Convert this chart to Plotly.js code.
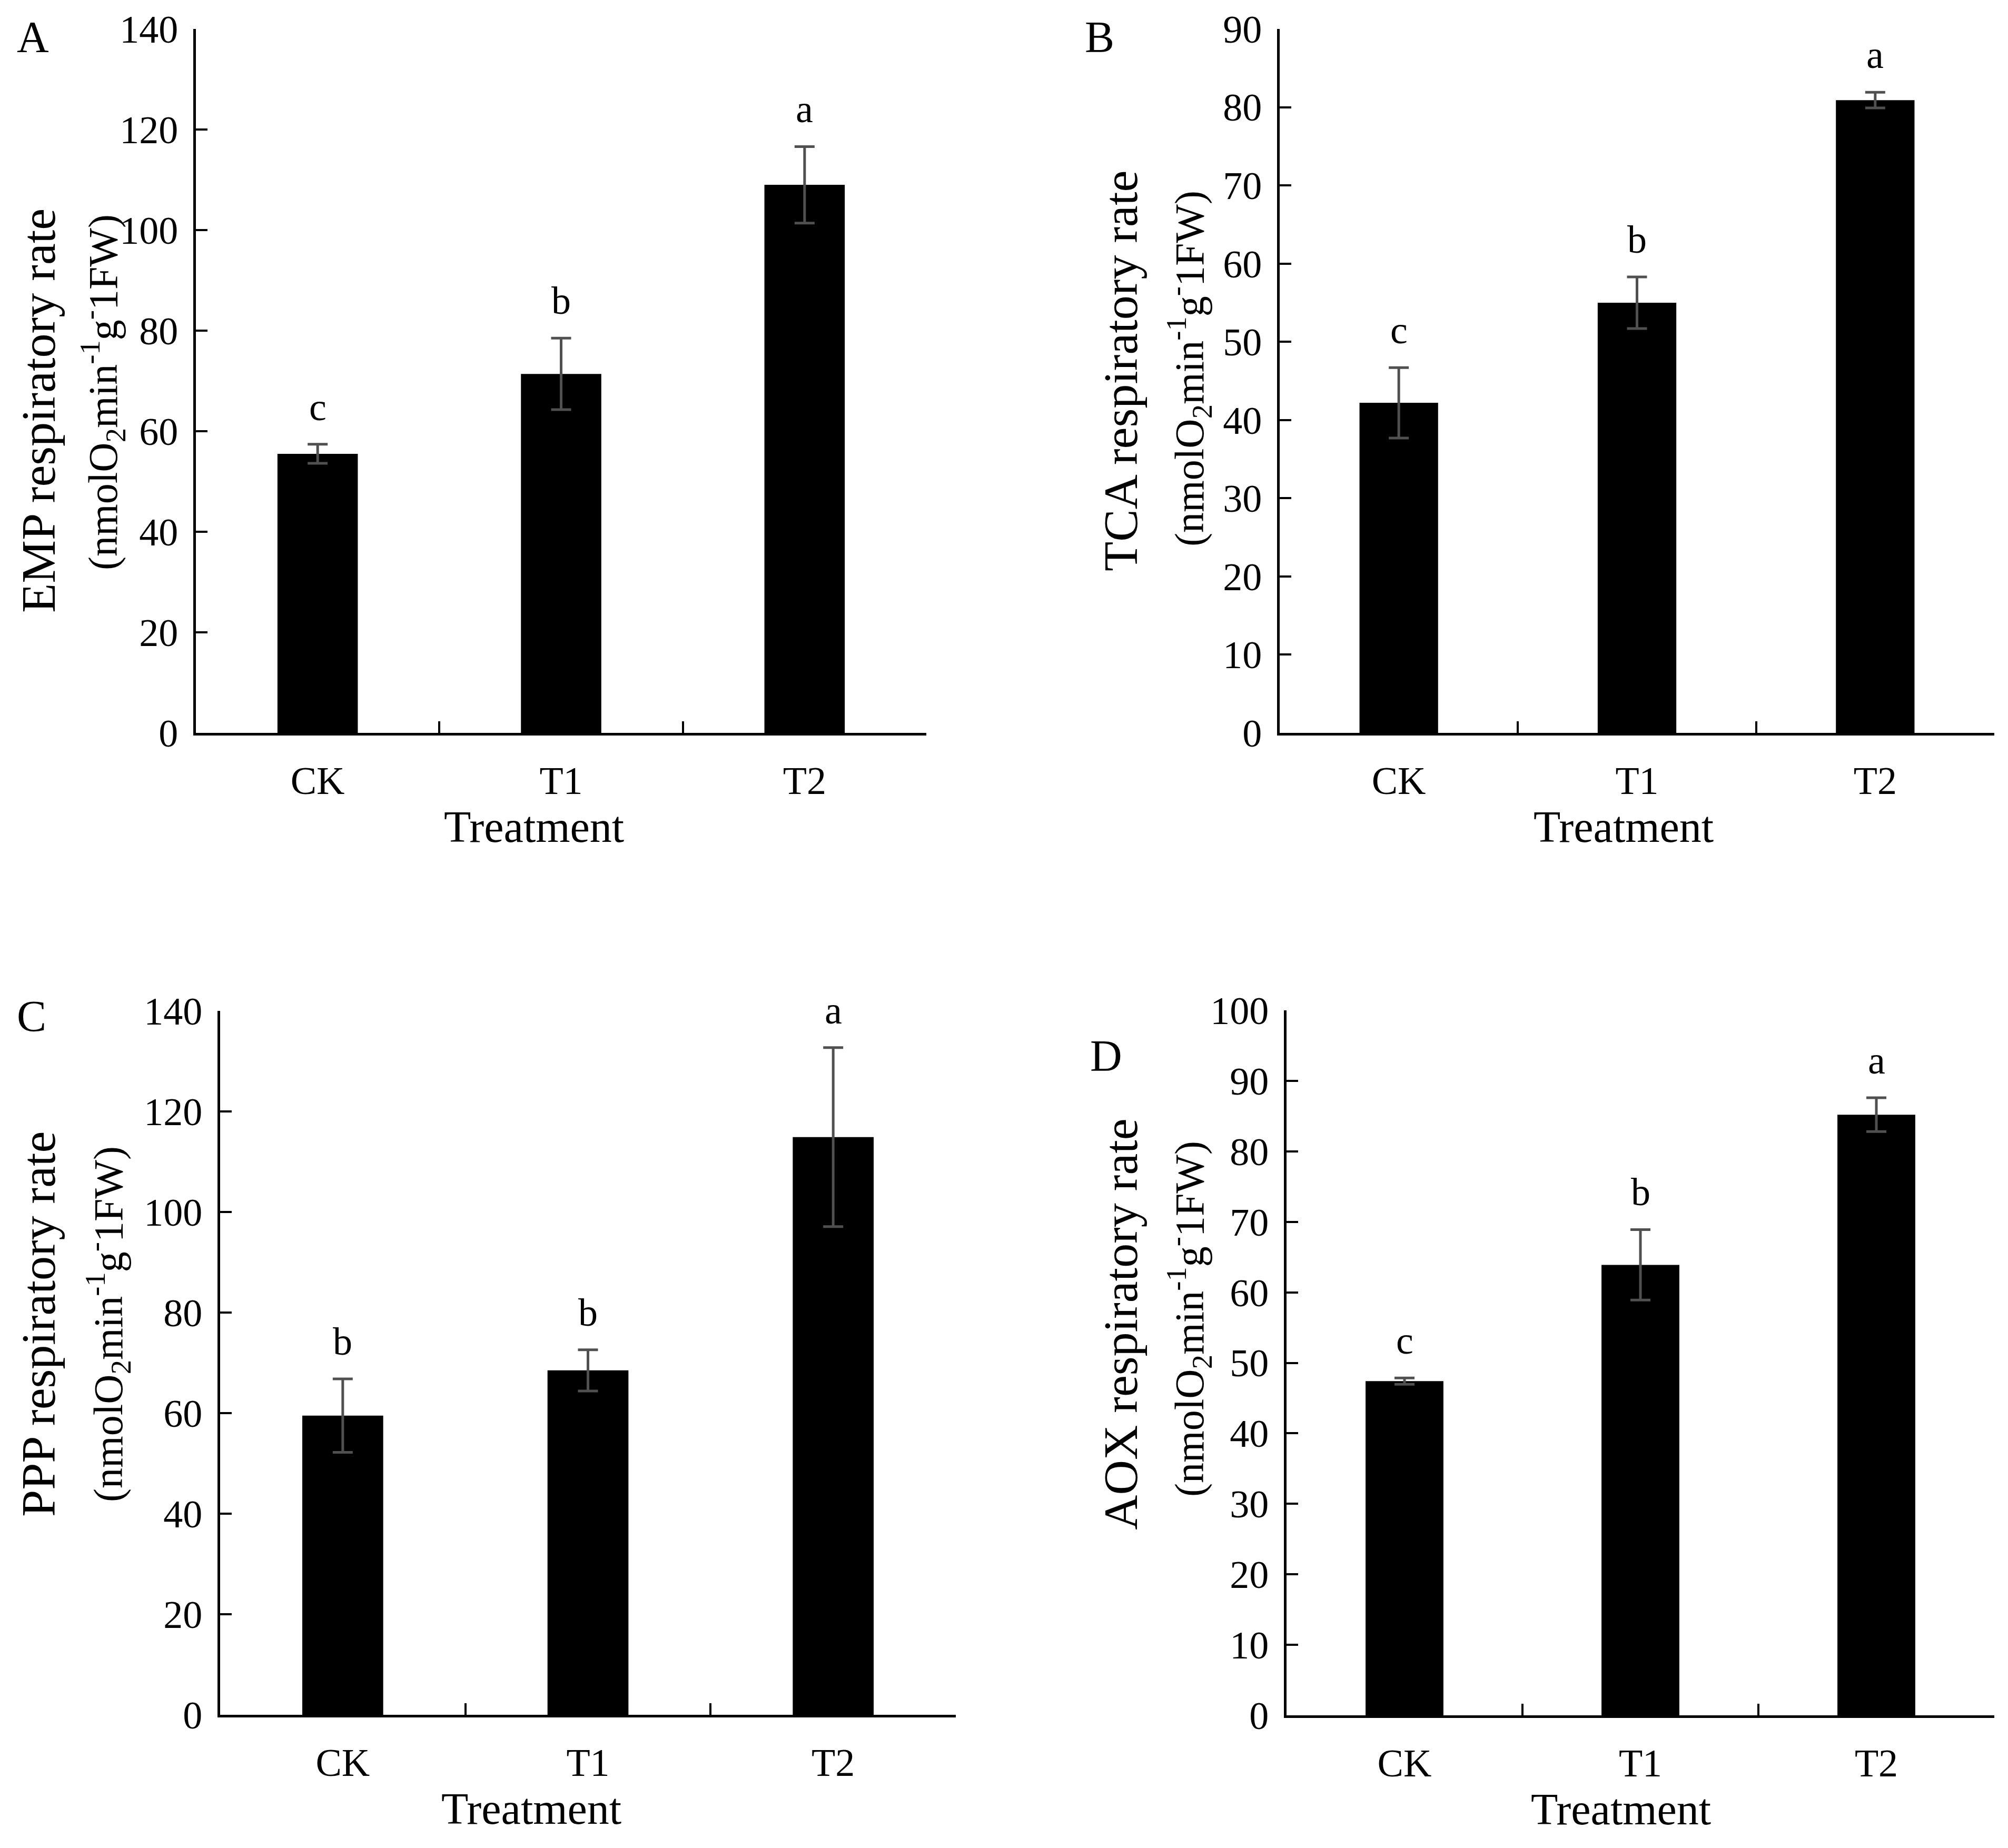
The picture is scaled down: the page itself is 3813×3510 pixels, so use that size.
<!DOCTYPE html>
<html>
<head>
<meta charset="utf-8">
<script src="https://cdn.plot.ly/plotly-3.0.1.min.js"></script>
<style>
  html, body { margin: 0; padding: 0; background: #fff; }
  #chart { width: 3813px; height: 3510px; }
</style>
</head>
<body>
<div id="chart"></div>
<script>
// treatments
var categories = ['CK', 'T1', 'T2'];

// EMP (A)
var empMean = [55.5, 71.4, 109.0];
var empErr = [1.9, 7.1, 7.6];
var empLetters = ['c', 'b', 'a'];

// TCA (B)
var tcaMean = [42.2, 55.0, 80.9];
var tcaErr = [4.5, 3.3, 1.0];
var tcaLetters = ['c', 'b', 'a'];

// PPP (C)
var pppMean = [59.5, 68.5, 114.9];
var pppErr = [7.3, 4.1, 17.8];
var pppLetters = ['b', 'b', 'a'];

// AOX (D)
var aoxMean = [47.4, 63.9, 85.2];
var aoxErr = [0.45, 5.0, 2.4];
var aoxLetters = ['c', 'b', 'a'];

var unitLine = '(nmolO<sub>2</sub>min<sup>-1</sup>g<sup>-</sup>1FW)';
var FONT = 'Liberation Serif, Times New Roman, serif';
var W = 3813, H = 3510;

// layout of each panel in pixels of the page
var panels = [
  {name: 'A', title: 'EMP respiratory rate', mean: empMean, err: empErr, letters: empLetters,
   yMax: 140, dtick: 20, left: 372, right: 1759, top: 55, bottom: 1392,
   t1x: 73, t2x: 195, ty: 780, t2y: 745, xtx: 1014, lx: 62, ly: 71},
  {name: 'B', title: 'TCA respiratory rate', mean: tcaMean, err: tcaErr, letters: tcaLetters,
   yMax: 90, dtick: 10, left: 2430, right: 3787, top: 55, bottom: 1392,
   t1x: 2128, t2x: 2258, ty: 705, t2y: 700, xtx: 3083, lx: 2088, ly: 71},
  {name: 'C', title: 'PPP respiratory rate', mean: pppMean, err: pppErr, letters: pppLetters,
   yMax: 140, dtick: 20, left: 418, right: 1815, top: 1920, bottom: 3257,
   t1x: 73, t2x: 205, ty: 2515, t2y: 2515, xtx: 1009, lx: 60, ly: 1930},
  {name: 'D', title: 'AOX respiratory rate', mean: aoxMean, err: aoxErr, letters: aoxLetters,
   yMax: 100, dtick: 10, left: 2443, right: 3787, top: 1919, bottom: 3258,
   t1x: 2128, t2x: 2258, ty: 2515, t2y: 2505, xtx: 3078, lx: 2100, ly: 2005}
];

var data = [];
var layout = {
  width: W, height: H,
  margin: {l: 0, r: 0, t: 0, b: 0},
  paper_bgcolor: '#fff', plot_bgcolor: '#fff',
  showlegend: false,
  bargap: 0.67,
  font: {family: FONT, size: 72, color: '#000'},
  annotations: []
};

panels.forEach(function(p, i) {
  var n = i === 0 ? '' : String(i + 1);
  var xa = 'x' + n, ya = 'y' + n;

  data.push({
    type: 'bar',
    x: categories,
    y: p.mean,
    xaxis: xa, yaxis: ya,
    marker: {color: '#000', line: {width: 0}},
    error_y: {type: 'data', array: p.err, visible: true, color: '#505050', thickness: 5, width: 19},
    hoverinfo: 'none'
  });

  layout['xaxis' + n] = {
    domain: [p.left / W, p.right / W],
    anchor: ya,
    type: 'category',
    range: [-0.5, 2.5],
    showline: true, linecolor: '#000', linewidth: 5,
    ticks: 'inside', tickson: 'boundaries', ticklen: 22, tickwidth: 4, tickcolor: '#000',
    showgrid: false, zeroline: false,
    ticklabelstandoff: 22,
    tickfont: {family: FONT, size: 74, color: '#000'},
    fixedrange: true
  };
  layout['yaxis' + n] = {
    domain: [1 - p.bottom / H, 1 - p.top / H],
    anchor: xa,
    range: [0, p.yMax],
    dtick: p.dtick, tick0: 0,
    showline: true, linecolor: '#000', linewidth: 5,
    ticks: 'inside', ticklen: 22, tickwidth: 4, tickcolor: '#000',
    showgrid: false, zeroline: false,
    ticklabelstandoff: 14,
    tickfont: {family: FONT, size: 74, color: '#000'},
    fixedrange: true
  };

  // y titles, two lines
  layout.annotations.push({
    xref: 'paper', yref: 'paper', x: p.t1x / W, y: 1 - p.ty / H,
    text: p.title, textangle: -90, showarrow: false,
    xanchor: 'center', yanchor: 'middle',
    font: {family: FONT, size: 92, color: '#000'}
  });
  layout.annotations.push({
    xref: 'paper', yref: 'paper', x: p.t2x / W, y: 1 - p.t2y / H,
    text: unitLine, textangle: -90, showarrow: false,
    xanchor: 'center', yanchor: 'middle',
    font: {family: FONT, size: 78, color: '#000'}
  });
  // x title
  layout.annotations.push({
    xref: 'paper', yref: 'paper', x: p.xtx / W, y: 1 - (p.bottom + 130) / H,
    text: 'Treatment', showarrow: false,
    xanchor: 'center', yanchor: 'top',
    font: {family: FONT, size: 84, color: '#000'}
  });
  // panel letter
  layout.annotations.push({
    xref: 'paper', yref: 'paper', x: p.lx / W, y: 1 - p.ly / H,
    text: p.name, showarrow: false,
    xanchor: 'center', yanchor: 'middle',
    font: {family: FONT, size: 84, color: '#000'}
  });
  // significance letters above error bars
  categories.forEach(function(c, j) {
    layout.annotations.push({
      xref: xa, yref: ya, x: c, y: p.mean[j] + p.err[j],
      text: p.letters[j], showarrow: false,
      xanchor: 'center', yanchor: 'bottom', yshift: 28,
      font: {family: FONT, size: 74, color: '#000'}
    });
  });
});

Plotly.newPlot('chart', data, layout, {displayModeBar: false, staticPlot: true});
</script>
</body>
</html>
